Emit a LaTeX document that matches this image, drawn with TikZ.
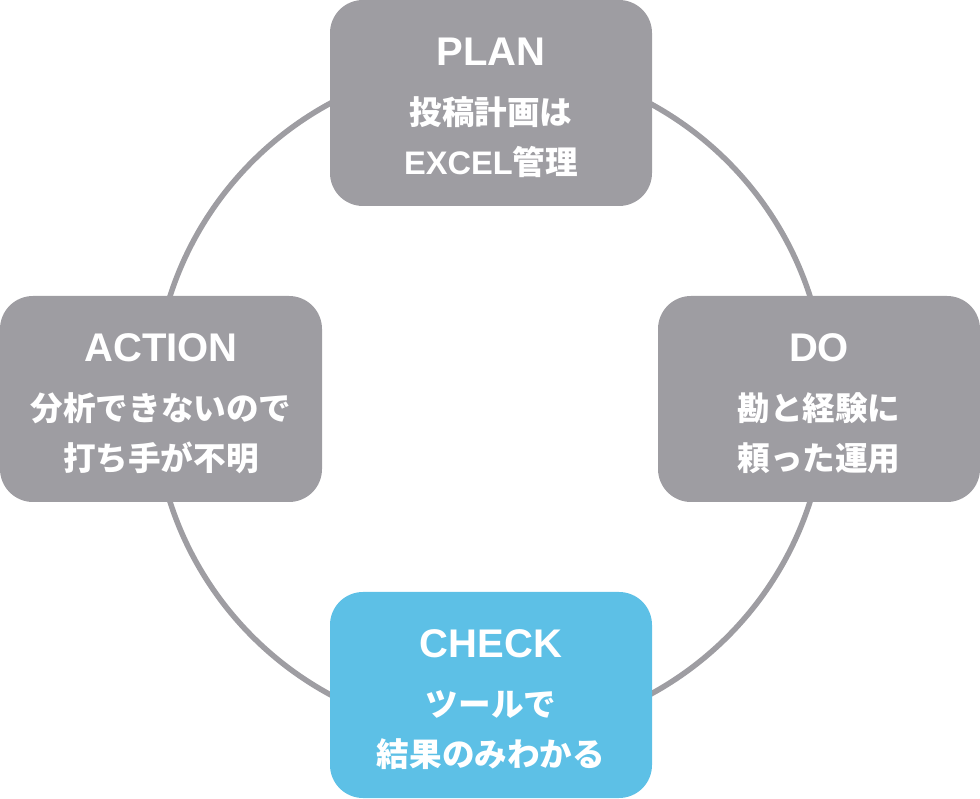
\documentclass[tikz,border=0pt]{standalone}
\usepackage{fontspec}
\setmainfont{Liberation Sans}
\newfontfamily\jpfont{Noto Sans CJK JP}
\newfontfamily\latinfont{Liberation Sans}
\definecolor{boxgray}{HTML}{9E9DA2}
\definecolor{checkblue}{HTML}{5DC0E6}
\newcommand\phasetitle[1]{{\latinfont\fontsize{20}{20}\selectfont\rule{0pt}{18.5pt}#1}}

\begin{document}
\begin{tikzpicture}[x=0.5pt,y=0.5pt,
  phase/.style={rounded corners=16.5pt,fill=boxgray,text=white,inner sep=0pt,
    minimum width=161pt,minimum height=103pt,align=center,
    font=\jpfont\bfseries\fontsize{16.3}{25}\selectfont},
  ring/.style={draw=boxgray,line width=2.75pt}]

  \useasboundingbox (0,0) rectangle (980,798);
  \coordinate (hub) at (490,399);
  \draw[ring] (hub) circle (336);

  \node[phase] (plan) at (491,695)
    {\phasetitle{PLAN}\\[4.5pt]
     投稿計画は\\{\latinfont EXCEL}管理};
  \node[phase] (do) at (819,399)
    {\phasetitle{DO}\\[4.5pt]
     勘と経験に\\頼った運用};
  \node[phase,fill=checkblue] (check) at (491,103)
    {\phasetitle{CHECK}\\[4.5pt]
     ツールで\\結果のみわかる};
  \node[phase] (act) at (161,399)
    {\phasetitle{ACTION}\\[4.5pt]
     分析できないので\\打ち手が不明};
\end{tikzpicture}
\end{document}
